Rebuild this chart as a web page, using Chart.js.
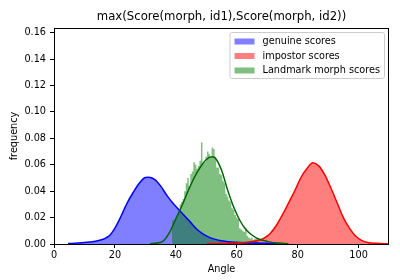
<!DOCTYPE html>
<html>
<head>
<meta charset="utf-8">
<script src="https://cdn.jsdelivr.net/npm/chart.js@4.4.0/dist/chart.umd.min.js"></script>
<style>
  body { margin: 0; background: #fff; }
  #wrap { width: 400px; height: 280px; }
</style>
</head>
<body>
<div id="wrap"><canvas id="chart" width="400" height="280"></canvas></div>
<script>
// values
const genuineAngle = [4.6, 8, 12, 15, 17, 18.5, 20, 22, 24, 26, 28, 30, 31, 33, 35, 37, 39, 41, 43, 45, 47, 49, 51, 53, 55, 58, 62, 66, 70, 74, 76.6]
const genuineFreq = [0.0003, 0.0008, 0.0015, 0.0028, 0.0045, 0.007, 0.012, 0.021, 0.031, 0.039, 0.046, 0.0503, 0.0505, 0.049, 0.044, 0.037, 0.031, 0.026, 0.021, 0.016, 0.011, 0.0075, 0.005, 0.0035, 0.0025, 0.0015, 0.001, 0.0007, 0.0005, 0.0003, 0.0002]

const impostorAngle = [50.2, 55, 60, 64, 67, 69, 71, 73, 75, 77, 79, 81, 83, 85, 87, 89, 91, 93, 95, 97, 99, 101, 103, 106, 110]
const impostorFreq = [0.0002, 0.0004, 0.0008, 0.0015, 0.0028, 0.0045, 0.008, 0.014, 0.022, 0.031, 0.040, 0.050, 0.057, 0.0615, 0.059, 0.052, 0.042, 0.031, 0.020, 0.012, 0.006, 0.0028, 0.0012, 0.0005, 0.0002]

const landmarkAngle = [31.6, 34, 36, 38, 40, 42, 44, 46, 48, 50, 52, 53, 55, 57, 59, 61, 63, 65, 67, 70, 73, 77]
const landmarkFreq = [0.0002, 0.0007, 0.0025, 0.009, 0.019, 0.029, 0.040, 0.050, 0.058, 0.064, 0.066, 0.065, 0.056, 0.041, 0.028, 0.018, 0.011, 0.0068, 0.004, 0.002, 0.0008, 0.0002]

// histogram: bin centres, bin width 0.5
const landmarkBins = [39, 39.5, 40, 40.5, 41, 41.5, 42, 42.5, 43, 43.5, 44, 44.5, 45, 45.5, 46, 46.5, 47, 47.5, 48, 48.5, 49, 49.5, 50, 50.5, 51, 51.5, 52, 52.5, 53, 53.5, 54, 54.5, 55, 55.5, 56, 56.5, 57, 57.5, 58, 58.5, 59, 59.5, 60, 60.5, 61, 61.5, 62, 62.5, 63, 63.5, 64, 64.5, 65, 65.5, 66, 66.5, 67, 67.5, 68]
const landmarkHist = [0.017, 0.018, 0.018, 0.019, 0.020, 0.024, 0.030, 0.032, 0.034, 0.040, 0.046, 0.050, 0.044, 0.053, 0.055, 0.062, 0.060, 0.057, 0.059, 0.063, 0.077, 0.061, 0.062, 0.066, 0.070, 0.068, 0.066, 0.073, 0.072, 0.066, 0.058, 0.058, 0.053, 0.052, 0.048, 0.046, 0.038, 0.036, 0.033, 0.032, 0.027, 0.026, 0.022, 0.020, 0.019, 0.012, 0.011, 0.010, 0.009, 0.012, 0.006, 0.005, 0.004, 0.005, 0.003, 0.004, 0.004, 0.002, 0.001]
const binWidth = 0.5

const xTicks = [0, 20, 40, 60, 80, 100]
const yTicks = [0, 0.02, 0.04, 0.06, 0.08, 0.10, 0.12, 0.14, 0.16]

const legendLabels = ['genuine scores', 'impostor scores', 'Landmark morph scores']
const legendColors = ['rgba(0, 0, 255, 0.5)', 'rgba(255, 0, 0, 0.5)', 'rgba(0, 128, 0, 0.5)']

const FONT = 'DejaVu Sans'

const points = (xs, ys) => xs.map((x, i) => ({ x: x, y: ys[i] }))

// step outline of the histogram: left edge of each bin, closed at the last right edge
function histSteps(bins, vals) {
    const pts = bins.map((b, i) => ({ x: b - binWidth / 2, y: vals[i] }))
    pts.push({ x: bins[bins.length - 1] + binWidth / 2, y: 0 })
    return pts
}

function curve(xs, ys, color, fillColor, order) {
    return {
        data: points(xs, ys),
        borderColor: color,
        borderWidth: fillColor ? 0 : 1.5,
        backgroundColor: fillColor || color,
        fill: fillColor ? 'origin' : false,
        pointRadius: 0,
        cubicInterpolationMode: 'monotone',
        order: order,
    }
}

const titlePlugin = {
    id: 'titlePlugin',
    afterDraw(c) {
        const ctx = c.ctx
        const a = c.chartArea
        ctx.save()
        ctx.font = '11.7px "' + FONT + '"'
        ctx.fillStyle = '#000'
        ctx.textAlign = 'center'
        ctx.textBaseline = 'middle'
        ctx.fillText('max(Score(morph, id1),Score(morph, id2))', (a.left + a.right) / 2, 16.5)

        // frame round the axes
        ctx.strokeStyle = '#000'
        ctx.lineWidth = 1
        ctx.strokeRect(Math.round(a.left) + 0.5, Math.round(a.top) + 0.5, Math.round(a.right - a.left) - 1, Math.round(a.bottom - a.top))
        ctx.restore()
    }
}

const legendPlugin = {
    id: 'legendPlugin',
    afterDraw(c) {
        const ctx = c.ctx
        const a = c.chartArea
        ctx.save()
        ctx.font = '9.7px "' + FONT + '"'
        let textW = 0
        legendLabels.forEach(t => { textW = Math.max(textW, ctx.measureText(t).width) })
        const right = a.right - 4.5
        const top = a.top + 4.5
        const w = textW + 37
        const h = 46
        const left = right - w
        ctx.beginPath()
        ctx.roundRect(left, top, w, h, 2)
        ctx.fillStyle = 'rgba(255, 255, 255, 0.8)'
        ctx.fill()
        ctx.strokeStyle = '#cccccc'
        ctx.lineWidth = 1
        ctx.stroke()
        legendLabels.forEach((t, i) => {
            const y = top + 9 + i * 14.5
            ctx.fillStyle = legendColors[i]
            ctx.fillRect(left + 4.5, y - 3, 20, 6)
            ctx.fillStyle = '#000'
            ctx.textAlign = 'left'
            ctx.textBaseline = 'middle'
            ctx.fillText(t, left + 32.5, y)
        })
        ctx.restore()
    }
}

new Chart(document.getElementById('chart'), {
    type: 'line',
    data: {
        datasets: [
            curve(genuineAngle, genuineFreq, 'blue', 'rgba(0, 0, 255, 0.5)', 5),
            curve(impostorAngle, impostorFreq, 'red', 'rgba(255, 0, 0, 0.5)', 4),
            {
                data: histSteps(landmarkBins, landmarkHist),
                stepped: 'after',
                borderWidth: 0,
                borderColor: 'rgba(0, 0, 0, 0)',
                backgroundColor: 'rgba(0, 128, 0, 0.5)',
                fill: 'origin',
                pointRadius: 0,
                order: 3,
            },
            curve(genuineAngle, genuineFreq, 'blue', null, 2),
            curve(impostorAngle, impostorFreq, 'red', null, 1),
            curve(landmarkAngle, landmarkFreq, 'darkgreen', null, 0),
        ],
    },
    options: {
        responsive: false,
        animation: false,
        devicePixelRatio: 1,
        layout: { padding: { top: 28, right: 11, left: 0, bottom: 0 } },
        plugins: {
            legend: { display: false },
            tooltip: { enabled: false },
        },
        scales: {
            x: {
                type: 'linear',
                min: 0,
                max: 110,
                offset: false,
                afterFit: s => { s.height = 36 },
                afterBuildTicks: s => { s.ticks = xTicks.map(v => ({ value: v })) },
                ticks: {
                    includeBounds: false,
                    maxRotation: 0,
                    autoSkip: false,
                    padding: 2,
                    color: '#000',
                    font: { family: FONT, size: 9.7 },
                },
                grid: { display: true, offset: false, drawOnChartArea: false, drawTicks: true, tickLength: 4, color: '#000' },
                border: { display: false },
                title: {
                    display: true,
                    text: 'Angle',
                    color: '#000',
                    font: { family: FONT, size: 9.7 },
                    padding: { top: 0, bottom: 5 },
                },
            },
            y: {
                min: 0,
                max: 0.1636,
                afterFit: s => { s.width = 54 },
                afterBuildTicks: s => { s.ticks = yTicks.map(v => ({ value: v })) },
                ticks: {
                    includeBounds: false,
                    autoSkip: false,
                    padding: 4,
                    color: '#000',
                    font: { family: FONT, size: 9.7 },
                    callback: v => v.toFixed(2),
                },
                grid: { display: true, drawOnChartArea: false, drawTicks: true, tickLength: 4, color: '#000' },
                border: { display: false },
                title: {
                    display: true,
                    text: 'frequency',
                    color: '#000',
                    font: { family: FONT, size: 9.7 },
                    padding: { top: 9, bottom: 0 },
                },
            },
        },
    },
    plugins: [titlePlugin, legendPlugin],
})
</script>
</body>
</html>
